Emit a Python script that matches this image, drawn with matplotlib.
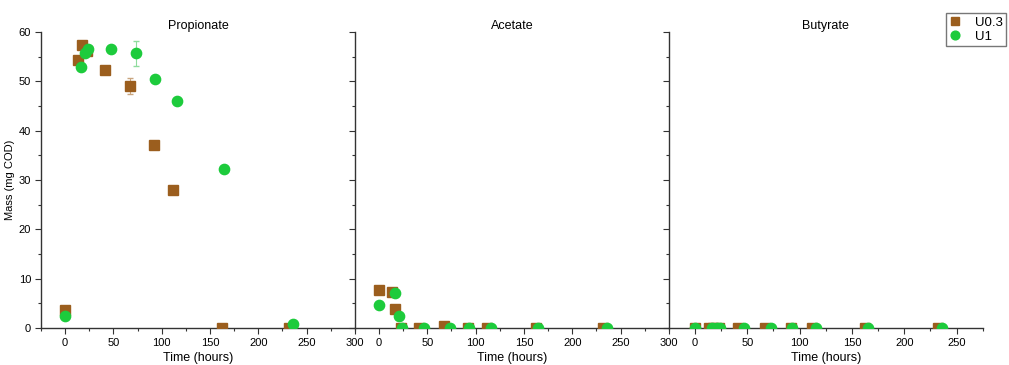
import numpy as np
import matplotlib.pyplot as plt
from matplotlib.ticker import MultipleLocator

plt.rcParams['font.family'] = ['Liberation Sans', 'DejaVu Sans']

# sampling times (hours)
t_u03 = [0, 13, 17, 22.5, 41, 67, 92, 112, 162, 232]
t_u1 = [0, 16, 21, 24, 47, 73, 93, 116, 165, 236]

# mass (mg COD)
prop_u03 = [3.7, 54.3, 57.3, 56.2, 52.4, 49.0, 37.2, 27.9, 0.0, 0.0]
prop_u1 = [2.4, 53.0, 55.8, 56.6, 56.6, 55.7, 50.5, 46.1, 32.3, 0.9]
prop_u03_err = [0, 0, 0, 0, 0, 1.6, 0, 0, 0, 0]
prop_u1_err = [0, 0, 0, 0, 0, 2.6, 0, 0, 0, 0]

acet_u03 = [7.8, 7.3, 3.9, 0.0, 0.0, 0.4, 0.0, 0.0, 0.0, 0.0]
acet_u1 = [4.6, 7.1, 2.4, 0.0, 0.0, 0.0, 0.0, 0.0, 0.0, 0.0]

buty_u03 = [0.0] * 10
buty_u1 = [0.0] * 10

titles = ['Propionate', 'Acetate', 'Butyrate']
u03_data = [prop_u03, acet_u03, buty_u03]
u1_data = [prop_u1, acet_u1, buty_u1]
u03_err = [prop_u03_err, None, None]
u1_err = [prop_u1_err, None, None]
xmax = [300, 300, 275]

brown = '#9B5E1E'
green = '#1DCB3C'

fig, axes = plt.subplots(1, 3, figsize=(10.09, 3.65), dpi=100, sharey=True)
fig.subplots_adjust(left=0.0406, right=0.974, top=0.912, bottom=0.101, wspace=0)

for i, ax in enumerate(axes):
    ax.errorbar(t_u03, u03_data[i], yerr=u03_err[i], fmt='s', color=brown,
                ms=6.8, ecolor='#c9a57f', elinewidth=0.8, capsize=2,
                label='U0.3', zorder=3)
    ax.errorbar(t_u1, u1_data[i], yerr=u1_err[i], fmt='o', color=green,
                ms=7.4, ecolor='#8fdc9e', elinewidth=0.8, capsize=2,
                label='U1', zorder=4)
    ax.set_xlim(-25, xmax[i])
    ax.set_ylim(0, 60)
    ax.set_title(titles[i], fontsize=9, pad=2)
    ax.set_xlabel('Time (hours)', fontsize=9, labelpad=3)
    ax.xaxis.set_major_locator(MultipleLocator(50))
    ax.xaxis.set_minor_locator(MultipleLocator(25))
    ax.yaxis.set_major_locator(MultipleLocator(10))
    ax.yaxis.set_minor_locator(MultipleLocator(5))
    ax.spines['top'].set_visible(False)
    ax.spines['right'].set_visible(False)
    for s in ['left', 'bottom']:
        ax.spines[s].set_color('#333333')
        ax.spines[s].set_linewidth(1.0)
    ax.tick_params(which='major', length=4, width=0.8, color='#333333',
                   labelsize=8, direction='out', pad=3)
    ax.tick_params(which='minor', length=2.5, width=0.8, color='#333333',
                   direction='out')
    if i > 0:
        ax.tick_params(axis='y', labelleft=False)

axes[0].set_ylabel('Mass (mg COD)', fontsize=8, labelpad=3)

handles, labels = axes[0].get_legend_handles_labels()
handles = [h[0] for h in handles]
fig.legend(handles, labels, loc='upper right', bbox_to_anchor=(1.004, 0.982),
           fontsize=9.5, frameon=True, fancybox=False, edgecolor='#555555',
           handlelength=1.0, handletextpad=1.0, borderpad=0.25,
           labelspacing=0.15, markerscale=0.85)

fig.savefig('out.png', dpi=100)
